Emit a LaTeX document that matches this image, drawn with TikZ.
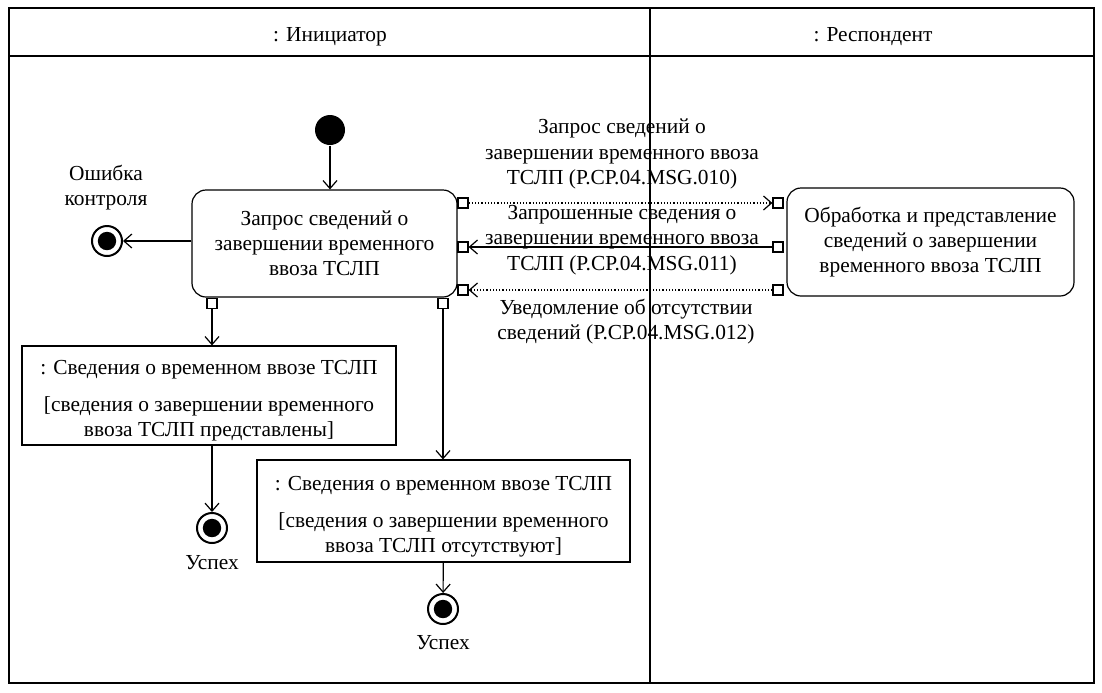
\documentclass[tikz,border=0pt]{standalone}
\usepackage{fontspec}
\setmainfont{Liberation Serif}
\usetikzlibrary{arrows.meta,positioning}
\tikzset{
    >={Straight Barb[length=4pt,width=7pt]},
    every node/.append style={font=\fontsize{10.7}{12.6}\selectfont},
    lane/.style={draw=black,line width=0.6pt},
    action/.style={draw,rounded corners=7pt,align=center,inner sep=0pt},
    object/.style={draw,align=center,inner sep=0pt},
    port/.style={draw,fill=white,minimum size=5pt,inner sep=0pt},
    start/.style={circle,fill=black,minimum size=15pt,inner sep=0pt},
    finish/.style={circle,draw,line width=1pt,minimum size=15pt,inner sep=0pt,
        path picture={\fill (path picture bounding box.center) circle (4.6pt);}},
    msg/.style={densely dotted},
    label/.style={align=center},
}
\newcommand{\ObjTop}{\rule{0pt}{12.5pt}}
\begin{document}
\begin{tikzpicture}[x=0.5pt,y=-0.5pt,line width=0.6pt]
    \useasboundingbox (0,0) rectangle (1102,692);
    % swimlanes
    \draw[lane] (9,8) rectangle (1094,683);
    \draw[lane] (650,8) -- (650,683);
    \draw[lane,line width=1.1pt] (9,56) -- (1094,56);
    \node (initiator) at (330,37) {: Инициатор};
    \node (respondent) at (873,37) {: Респондент};

    % actions
    \node[start] (init) at (330,130) {};
    \node[action,minimum width=132.5pt,minimum height=53.5pt] (req) at (324.5,243.5)
        {Запрос сведений о\\завершении временного\\ввоза ТСЛП};
    \node[action,minimum width=143.5pt,minimum height=54pt] (proc) at (930.5,242)
        {Обработка и представление\\сведений о завершении\\временного ввоза ТСЛП};

    % pins
    \node[port] (reqout) at (463,203) {};
    \node[port] (reqin) at (463,247) {};
    \node[port] (reqnone) at (463,290) {};
    \node[port] (procin) at (778,203) {};
    \node[port] (procout) at (778,247) {};
    \node[port] (procnone) at (778,290) {};
    \node[port] (reqok) at (212,303.5) {};
    \node[port] (reqno) at (443,303.5) {};

    % objects
    \node[object,minimum width=187pt,minimum height=49.5pt] (objok) at (209,395.5)
        {\ObjTop: Сведения о временном ввозе ТСЛП\\[6pt][сведения о завершении временного\\ввоза ТСЛП представлены]};
    \node[object,minimum width=186.5pt,minimum height=51pt] (objno) at (443.5,511)
        {\ObjTop: Сведения о временном ввозе ТСЛП\\[6pt][сведения о завершении временного\\ввоза ТСЛП отсутствуют]};

    % final nodes
    \node[finish] (errend) at (107,241) {};
    \node[label] (errlbl) at (106,188) {Ошибка\\контроля};
    \node[finish] (okend) at (212,528) {};
    \node[label] (oklbl) at (212,563) {Успех};
    \node[finish] (noend) at (443,609) {};
    \node[label] (nolbl) at (443,643) {Успех};

    % flows
    \draw[->] (init) -- (init |- req.north);
    \draw[->] (req.west |- errend) -- (errend);
    \draw[->] (reqok) -- (reqok |- objok.north);
    \draw[->] (okend |- objok.south) -- (okend);
    \draw[->] (reqno) -- (reqno |- objno.north);
    \draw[->] (objno) -- (noend);

    % messages
    \draw[->,msg] (reqout) -- (procin);
    \draw[->] (procout) -- (reqin);
    \draw[->,msg] (procnone) -- (reqnone);
    \node[label] (msg010) at (622,154) {Запрос сведений о\\завершении временного ввоза\\ТСЛП (Р.СР.04.MSG.010)};
    \node[label] (msg011) at (622,240) {Запрошенные сведения о\\завершении временного ввоза\\ТСЛП (Р.СР.04.MSG.011)};
    \node[label] (msg012) at (626,322) {Уведомление об отсутствии\\сведений (Р.СР.04.MSG.012)};
\end{tikzpicture}
\end{document}
